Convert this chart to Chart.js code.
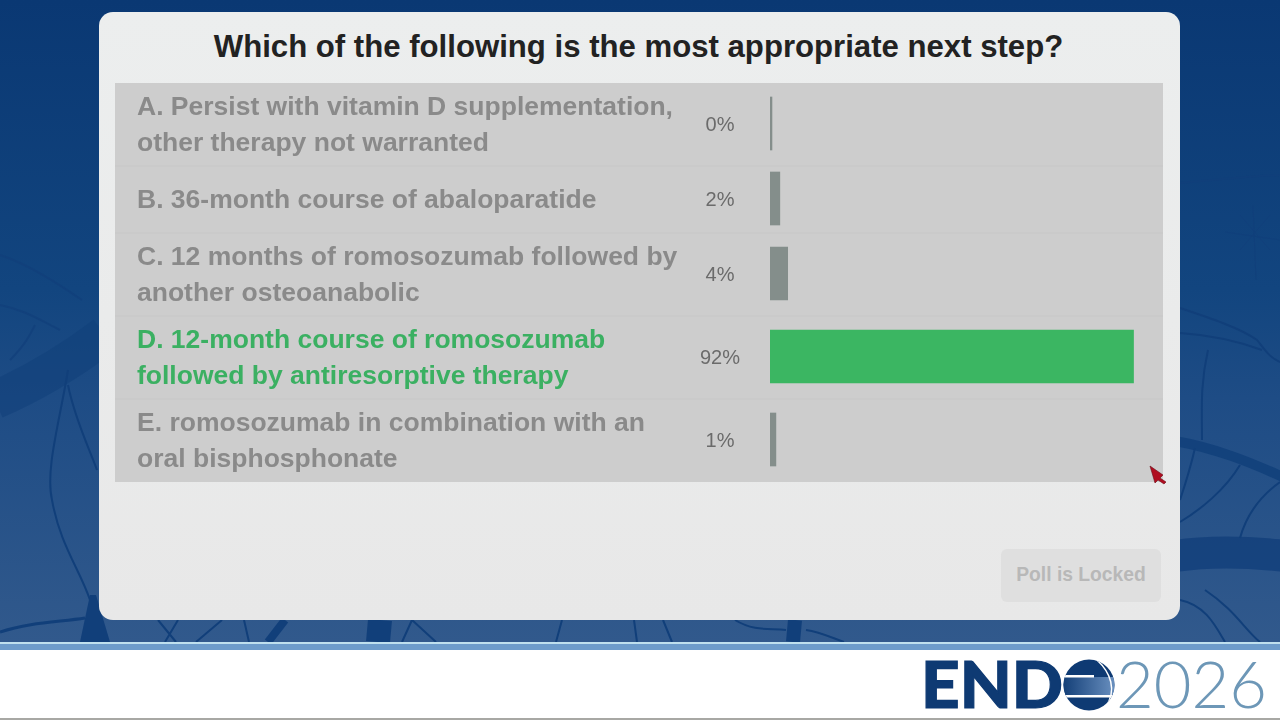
<!DOCTYPE html>
<html><head><meta charset="utf-8">
<style>
html,body{margin:0;padding:0;width:1280px;height:720px;overflow:hidden;background:#fff;font-family:"Liberation Sans",Arial,sans-serif}
#bg{position:absolute;left:0;top:0}
#panel{position:absolute;left:99px;top:12px;width:1081px;height:608px;border-radius:14px;background:linear-gradient(#eceeee,#e8e8e8)}
#title{position:absolute;left:98px;width:1081px;top:29px;text-align:center;font:bold 31.15px "Liberation Sans",Arial,sans-serif;color:#222;line-height:36px}
#wrap{position:absolute;left:115px;top:83px;width:1048px;height:400px}
#btn{position:absolute;left:1001px;top:549px;width:160px;height:53px;border-radius:6px;background:#dfdfdf;color:#b8b8b8;font:bold 19.3px/52px "Liberation Sans",Arial,sans-serif;text-align:center}
#ov{position:absolute;left:0;top:0;pointer-events:none}
</style></head><body>
<svg id="bg" width="1280" height="720" viewBox="0 0 1280 720">
<defs><linearGradient id="g" x1="0" y1="0" x2="0" y2="1"><stop offset="0" stop-color="#0a3873"/><stop offset=".45" stop-color="#12457f"/><stop offset=".62" stop-color="#1e4c85"/><stop offset="1" stop-color="#31598c"/></linearGradient></defs>
<rect width="1280" height="642" fill="url(#g)"/>
<g fill="none" stroke="#113f7a" stroke-width="2">
<path d="M-5 400C30 385 65 365 105 335" stroke-width="38" stroke-opacity=".55"/>
<path d="M0 255C30 265 60 285 82 300" stroke-opacity=".7"/><path d="M0 305C25 310 40 320 60 330" stroke-opacity=".7"/><path d="M10 360C25 345 30 335 35 325" stroke-opacity=".7"/>
<path d="M68 370C60 420 45 470 52 500C60 545 80 570 90 600"/><path d="M68 385C75 420 90 450 97 470"/>
<path d="M0 632C30 622 60 622 85 618" stroke-width="3"/>
<path d="M90 595L96 595L110 642L80 642Z" fill="#113f7a" stroke="none"/><path d="M158 620L176 642M178 620L165 642M222 620L196 642M244 620L249 642"/>
<path d="M285 620L268 642" stroke-width="8"/><path d="M380 620L378 642" stroke-width="24"/><path d="M412 620L402 642M412 620L436 642"/>
<path d="M562 620L556 642M634 620L637 642M663 620L672 642M735 620C755 632 770 628 786 630M806 630C820 632 830 637 844 642"/>
<path d="M795 620L793 642" stroke-width="14"/>
<path d="M1175 441C1215 448 1250 462 1285 478" stroke-width="10" stroke-opacity=".85"/><path d="M1175 556C1215 550 1250 552 1285 556" stroke-width="32" stroke-opacity=".8"/>
<path d="M1180 308C1210 318 1240 328 1257 340C1265 350 1270 358 1280 362"/><path d="M1180 333C1210 335 1240 342 1262 350"/>
<path d="M1180 183C1215 180 1250 176 1280 175" stroke-opacity=".7"/>
<path d="M1208 350C1200 385 1202 410 1202 440M1195 448C1190 470 1185 485 1180 500M1240 465C1225 490 1200 510 1180 522M1280 482C1255 500 1245 520 1240 538"/>
<path d="M1180 600C1205 605 1215 625 1225 642M1260 642C1245 630 1235 610 1205 590"/>
<g stroke-width="1" stroke-opacity=".7"><path d="M1225 232L1280 240M1253 205L1256 280M1240 215L1270 250M1270 215L1240 250"/></g>
</g>
<rect y="642" width="1280" height="8" fill="#bfe0ee"/><rect y="644" width="1280" height="6" fill="#6d9ccb"/>
<rect y="650" width="1280" height="70" fill="#fff"/><rect y="718" width="1280" height="2" fill="#a8a8a4"/>
</svg>
<div id="panel"></div>
<div id="title">Which of the following is the most appropriate next step?</div>
<div id="wrap"><canvas id="c" width="1048" height="400"></canvas></div>
<div id="btn">Poll is Locked</div>
<svg id="ov" width="1280" height="720" viewBox="0 0 1280 720">
<path d="M1150 466L1163 475L1160 478L1166 482L1164 484L1158 480L1155 483Z" fill="#b00d20" stroke="#6b0a16" stroke-width=".6"/>
<text x="921" y="708" font-family="Lato" font-weight="900" font-size="65" fill="#0e3a73" stroke="#0e3a73" stroke-width="1.2" textLength="142" lengthAdjust="spacingAndGlyphs">END</text>
<defs><linearGradient id="gl" x1="0" x2="1"><stop offset="0" stop-color="#0e3a73"/><stop offset="1" stop-color="#6f95c4"/></linearGradient><clipPath id="cp"><circle cx="1089" cy="685" r="25.5"/></clipPath></defs>
<circle cx="1089" cy="685" r="25.5" fill="#0e3a73"/>
<g clip-path="url(#cp)">
<rect x="1060" y="677" width="58" height="18" fill="url(#gl)"/>
<rect x="1060" y="675" width="34" height="2.5" fill="#fff"/><rect x="1060" y="695" width="58" height="2.5" fill="#fff"/>
<path d="M1097 660C1110 672 1118 690 1105 708" stroke="#fff" stroke-width="1.5" fill="none"/>
</g>
<text x="1116" y="708" font-family="Lato" font-weight="300" font-size="65" fill="#6d97b7" textLength="151" lengthAdjust="spacingAndGlyphs">2026</text>
</svg>
<script src="https://cdn.jsdelivr.net/npm/chart.js@4/dist/chart.umd.min.js"></script>
<script>
const categories = [
  ["A. Persist with vitamin D supplementation,", "other therapy not warranted"],
  ["B. 36-month course of abaloparatide"],
  ["C. 12 months of romosozumab followed by", "another osteoanabolic"],
  ["D. 12-month course of romosozumab", "followed by antiresorptive therapy"],
  ["E. romosozumab in combination with an", "oral bisphosphonate"]
];
const percentages = [0, 2, 4, 92, 1];
const correctIndex = 3;

const rowHeights = [83, 67, 83, 83, 83];
const rowEdges = rowHeights.reduce((a, h) => (a.push(a[a.length - 1] + h), a), [0]);
const rowCenter = i => (rowEdges[i] + rowEdges[i + 1]) / 2;

class RowScale extends Chart.CategoryScale {
  getPixelForValue(value, index) {
    const i = typeof value === 'number' ? value : this.parse(value, index);
    return rowCenter(i) - 1;
  }
  getPixelForTick(index) {
    return rowCenter(this.ticks[index].value) + 1;
  }
}
RowScale.id = 'rows';
RowScale.defaults = Chart.CategoryScale.defaults;
Chart.register(RowScale);

const rowsPlugin = {
  id: 'rowsPlugin',
  beforeDraw(chart) {
    const c = chart.ctx, w = chart.width;
    c.save();
    c.fillStyle = '#cdcdcd';
    c.fillRect(0, 0, w, rowEdges[5]);
    c.fillStyle = '#c7c7c7';
    for (let i = 1; i < 5; i++) c.fillRect(0, rowEdges[i] - 0.5, w, 1);
    c.restore();
  },
  afterDatasetsDraw(chart) {
    const c = chart.ctx, y = chart.scales.y;
    c.save();
    c.font = '20px "Liberation Sans", Arial, sans-serif';
    c.fillStyle = '#6b6b6b';
    c.textAlign = 'center';
    c.textBaseline = 'middle';
    percentages.forEach((p, i) => c.fillText(p + '%', 605, y.getPixelForTick(i) - 0.5));
    c.restore();
  }
};

new Chart(document.getElementById('c'), {
  type: 'bar',
  data: {
    labels: categories,
    datasets: [{
      data: percentages,
      base: -0.5,
      barThickness: 53,
      borderWidth: 0,
      backgroundColor: percentages.map((_, i) => i === correctIndex ? '#3bb662' : '#848e8b')
    }]
  },
  options: {
    indexAxis: 'y',
    responsive: false,
    animation: false,
    layout: { padding: { left: 22, right: 0, top: 0, bottom: 0 } },
    plugins: { legend: { display: false }, tooltip: { enabled: false }, title: { display: false } },
    scales: {
      x: { type: 'linear', min: -0.5, max: 99.5, display: false },
      y: {
        type: 'rows',
        position: 'left',
        afterFit(s) { s.width = 633; s.paddingTop = 0; s.paddingBottom = 0; },
        grid: { display: false },
        border: { display: false },
        ticks: {
          crossAlign: 'far',
          autoSkip: false,
          font: { family: '"Liberation Sans", Arial, sans-serif', size: 26.5, weight: 'bold', lineHeight: 1.358 },
          color: ctx => ctx.index === correctIndex ? '#3bb062' : '#8a8a8a'
        }
      }
    }
  },
  plugins: [rowsPlugin]
});
</script>
</body></html>
